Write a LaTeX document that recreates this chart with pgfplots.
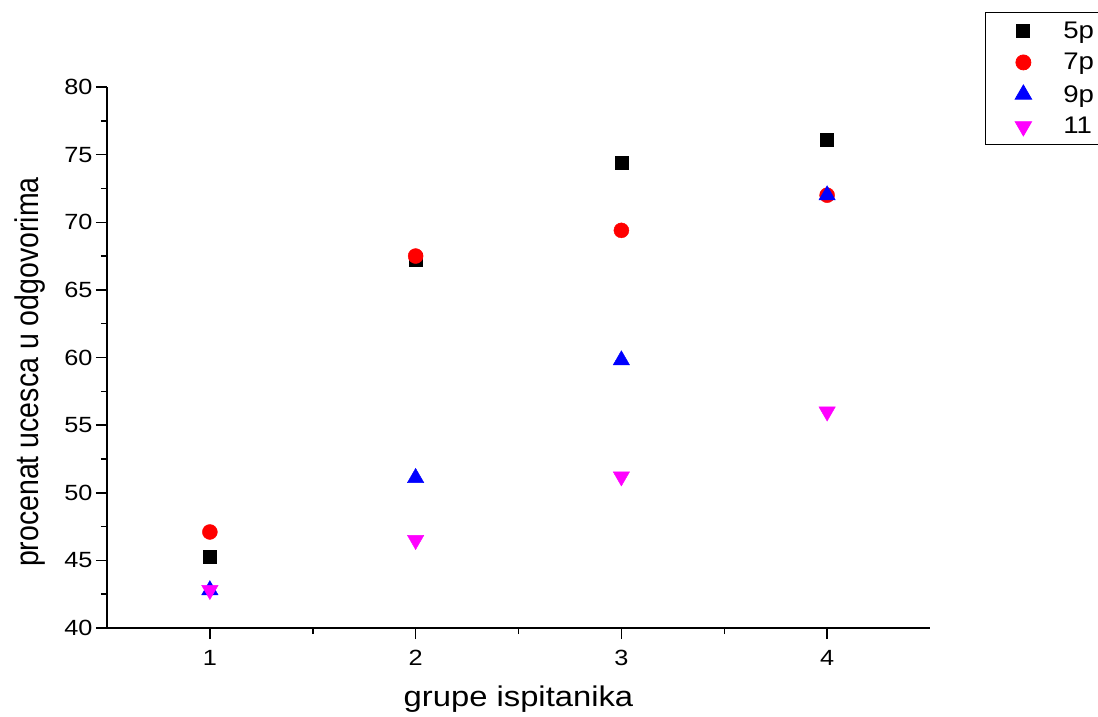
\documentclass[border=0pt]{standalone}
\usepackage{pgfplots}
\pgfplotsset{compat=1.18}
\usepackage{graphicx}
\usepackage{fontspec}
\setmainfont[FakeStretch=1.15]{Liberation Sans}
\newfontfamily\yfont{Liberation Sans}
\definecolor{mymag}{RGB}{255,0,255}
\definecolor{myred}{RGB}{255,0,0}
\definecolor{myblue}{RGB}{0,0,255}
\begin{document}
\begin{tikzpicture}
\path[use as bounding box] (-107pt,-88pt) rectangle (991pt,628pt);
\begin{axis}[
  at={(0pt,0pt)}, anchor=south west,
  scale only axis, width=823pt, height=541pt,
  xmin=0.5, xmax=4.5, ymin=40, ymax=80,
  xtick={1,2,3,4}, ytick={40,45,...,80},
  minor x tick num=1, minor y tick num=1,
  axis x line*=bottom, axis y line*=left,
  axis line style={line width=1.5pt, -},
  tick align=outside,
  major tick length=11pt, minor tick length=6pt,
  every tick/.style={black, line width=1.5pt},
  tick label style={font=\fontsize{22}{26}\selectfont},
  every x tick label/.append style={yshift=-8pt},
  /pgf/number format/assume math mode=true,
  xlabel={grupe ispitanika},
  ylabel={\yfont\scalebox{1}[1.15]{procenat ucesca u odgovorima}},
  label style={font=\fontsize{28.5}{32}\selectfont},
  xlabel style={at={(axis description cs:0.5,-0.145)}, anchor=base},
  ylabel style={at={(axis description cs:-0.0838,0.473)}, anchor=base},
  legend style={at={(1.0668,1.1386)}, anchor=north west, draw=black, line width=0.8pt,
    font=\fontsize{24}{28}\selectfont, row sep=0pt, column sep=28pt, inner xsep=0pt, inner ysep=2pt,
    nodes={inner sep=0pt}},
  legend cell align=left,
  legend image code/.code={\path[draw=none,fill=none] (-38pt,-16pt) rectangle (12pt,16pt); \draw plot coordinates {(0pt,0pt)};},
]
\addplot[only marks, mark=square*, mark size=6.5pt, draw=black, fill=black] coordinates {(1,45.3) (2,67.2) (3,74.4) (4,76.1)};
\addlegendentry{5p\phantom{0000}}
\addplot[only marks, mark=*, mark size=7.5pt, draw=myred, fill=myred] coordinates {(1,47.1) (2,67.5) (3,69.4) (4,72.0)};
\addlegendentry{7p}
\addplot[only marks, mark=triangle*, mark size=9.5pt, draw=myblue, fill=myblue] coordinates {(1,42.8) (2,51.1) (3,59.8) (4,72.0)};
\addlegendentry{9p}
\addplot[only marks, mark=triangle*, mark size=9.5pt, draw=mymag, fill=mymag, mark options={rotate=180}] coordinates {(1,42.8) (2,46.5) (3,51.2) (4,56.0)};
\addlegendentry{11}
\end{axis}
\end{tikzpicture}
\end{document}
